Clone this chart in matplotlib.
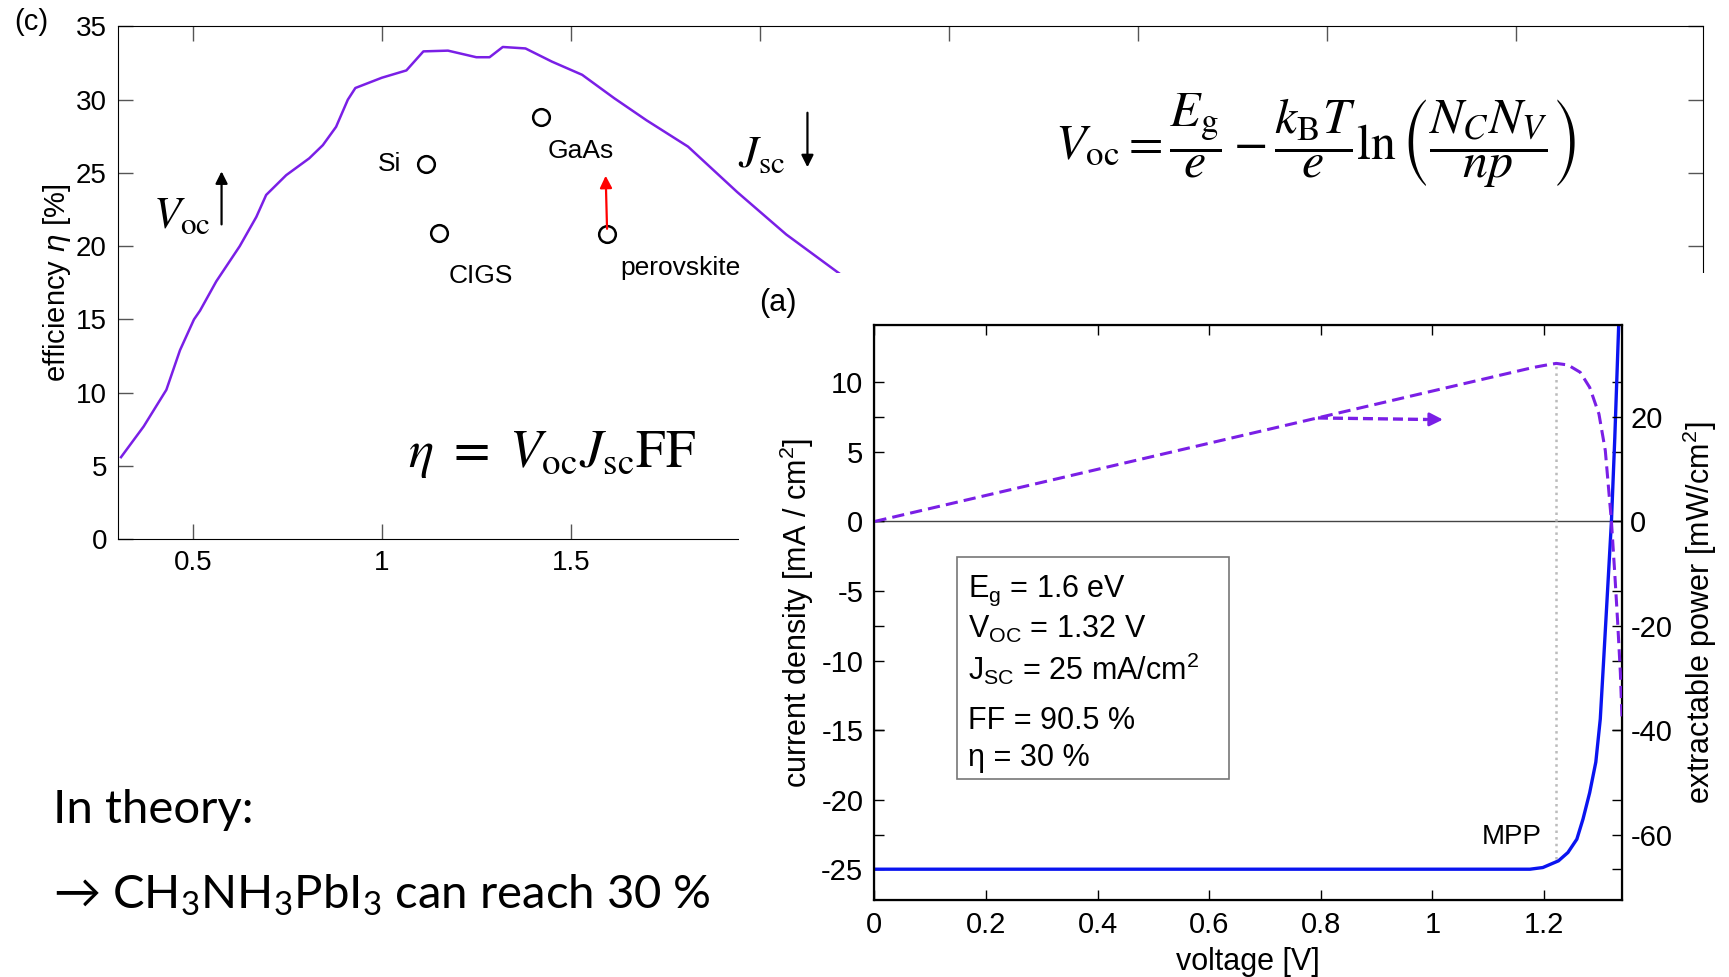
import matplotlib
matplotlib.use('Agg')
import matplotlib.pyplot as plt
import numpy as np
from matplotlib.patches import Rectangle
from matplotlib.ticker import FormatStrFormatter

# --- (c) Shockley-Queisser limit ---
sq_gap = [0.31, 0.37, 0.43, 0.466, 0.503, 0.519, 0.562, 0.624, 0.668, 0.694,
          0.747, 0.808, 0.844, 0.879, 0.91, 0.93, 1.0, 1.065, 1.11, 1.175,
          1.25, 1.285, 1.32, 1.38, 1.45, 1.53, 1.615, 1.70, 1.81, 1.94, 2.07,
          2.215]
sq_eff = [5.6, 7.7, 10.2, 12.9, 15.0, 15.6, 17.6, 20.0, 22.0, 23.5,
          24.85, 26.0, 26.9, 28.15, 30.0, 30.8, 31.5, 32.0, 33.3, 33.35,
          32.9, 32.9, 33.6, 33.5, 32.6, 31.7, 30.1, 28.6, 26.8, 23.7, 20.8,
          18.05]

cell_names = ['Si', 'CIGS', 'GaAs', 'perovskite']
cell_gap = [1.116, 1.15, 1.42, 1.596]
cell_eff = [25.6, 20.9, 28.8, 20.8]

# --- (a) J-V and P-V curve ---
jv_v = [0, 0.6, 1.175, 1.198, 1.226, 1.243, 1.259, 1.27, 1.282, 1.293, 1.301,
        1.307, 1.314, 1.321, 1.327, 1.334]
jv_j = [-25, -25, -25, -24.88, -24.4, -23.8, -22.84, -21.4, -19.5, -17.3, -14.2,
        -10.0, -5.0, 0, 6.0, 14.1]

pv_v = [0, 0.1, 0.2, 0.3, 0.4, 0.5, 0.6, 0.7, 0.8, 0.9, 1.0, 1.1, 1.18, 1.2,
        1.222, 1.243, 1.265, 1.282, 1.2986, 1.31, 1.321, 1.327, 1.332, 1.337, 1.34]
pv_p = [0, 2.5, 5, 7.5, 10, 12.5, 15, 17.5, 20, 22.5, 25, 27.5, 29.5, 29.9,
        30.3, 30.0, 28.6, 25.7, 20.6, 13.6, 0, -10, -19, -29, -38]

mpp_v = 1.222
mpp_j = -24.3
mpp_p = 30.3

box_lines = [r'E$_\mathregular{g}$ = 1.6 eV',
             r'V$_\mathregular{OC}$ = 1.32 V',
             r'J$_\mathregular{SC}$ = 25 mA/cm$^\mathregular{2}$',
             'FF = 90.5 %',
             'η = 30 %']
box_baselines = [-5.4, -8.4, -11.4, -14.95, -17.55]

purple = '#7a1fe6'
sans = ['Liberation Sans', 'DejaVu Sans']
plt.rcParams['font.family'] = sans
plt.rcParams['axes.unicode_minus'] = False
plt.rcParams['xtick.direction'] = 'in'
plt.rcParams['ytick.direction'] = 'in'

W, H = 1568, 886


def fig_box(l, t, r, b):
    return [l / W, 1 - b / H, (r - l) / W, (b - t) / H]


fig = plt.figure(figsize=(17.29, 9.77), dpi=100)

# ---------------- panel (c) ----------------
ax_c = fig.add_axes(fig_box(107, 24, 1544, 489))
ax_c.plot(sq_gap, sq_eff, color=purple, lw=1.8)
ax_c.plot(cell_gap, cell_eff, 'o', mfc='none', mec='k', ms=12, mew=1.8)
ax_c.set_xlim(0.302, 4.494)
ax_c.set_ylim(0, 35)
ax_c.set_xticks(np.arange(0.5, 4.01, 0.5))
ax_c.set_yticks(np.arange(0, 36, 5))
ax_c.xaxis.set_major_formatter(FormatStrFormatter('%g'))
ax_c.tick_params(top=True, right=True, length=11, width=1, color='#555555',
                 labelsize=20, pad=8)
ax_c.set_ylabel(r'efficiency $\eta$ [%]', fontsize=21, labelpad=2)

lbl = dict(fontsize=19, ha='center', va='center')
ax_c.text(1.02, 25.6, 'Si', **lbl)
ax_c.text(1.263, 18.0, 'CIGS', **lbl)
ax_c.text(1.527, 26.5, 'GaAs', **lbl)
ax_c.text(1.79, 18.5, 'perovskite', **lbl)
ax_c.annotate('', xy=(1.592, 25.0), xytext=(1.596, 21.0),
              arrowprops=dict(arrowstyle='-|>', color='red', lw=1.6,
                              mutation_scale=18))
ax_c.text(0.47, 22.0, r'$V_{\mathrm{oc}}$', fontsize=32, ha='center',
          va='center', math_fontfamily='stix')
ax_c.annotate('', xy=(0.576, 25.3), xytext=(0.576, 21.3),
              arrowprops=dict(arrowstyle='-|>', color='k', lw=1.6,
                              mutation_scale=18))
ax_c.text(2.005, 26.2, r'$J_{\mathrm{sc}}$', fontsize=32, ha='center',
          va='center', math_fontfamily='stix')
ax_c.annotate('', xy=(2.126, 25.2), xytext=(2.126, 29.3),
              arrowprops=dict(arrowstyle='-|>', color='k', lw=1.6,
                              mutation_scale=18))
ax_c.text(1.45, 5.8, r'$\eta\ =\ V_{\mathrm{oc}}J_{\mathrm{sc}}\mathrm{FF}$',
          fontsize=38, ha='center', va='center', math_fontfamily='stix')
ax_c.text(3.47, 27.2,
          r'$V_{\mathrm{oc}}=\dfrac{E_{\mathrm{g}}}{e}-\dfrac{k_{\mathrm{B}}T}{e}'
          r'\ln\left(\dfrac{N_C N_V}{np}\right)$',
          fontsize=36, ha='center', va='center', math_fontfamily='stix')

# white area that hides the lower right part of panel (c)
fig.add_artist(Rectangle((670 / W, 0), 1 - 670 / W, 1 - 248 / H,
                         transform=fig.transFigure, facecolor='white',
                         edgecolor='none', zorder=1))

fig.text(28 / W, 1 - 20 / H, '(c)', fontsize=21, ha='center', va='center')
fig.text(705 / W, 1 - 275 / H, '(a)', fontsize=22, ha='center', va='center',
         zorder=5)

# ---------------- panel (a) ----------------
ax_j = fig.add_axes(fig_box(793, 295, 1471, 816))
ax_j.set_zorder(2)
ax_p = ax_j.twinx()
ax_p.set_zorder(3)
ax_p.patch.set_visible(False)

ax_j.axhline(0, color='#444444', lw=1)
ax_j.plot([mpp_v, mpp_v], [mpp_j, mpp_p * 3 / 8], color='#bbbbbb', ls=':', lw=1.8)
ax_j.plot(jv_v, jv_j, color='#0a14f0', lw=2.4)
ax_p.plot(pv_v, pv_p, color=purple, lw=2.2, ls=(0, (4, 2)))

ax_j.set_xlim(0, 1.34)
ax_j.set_ylim(-27.2, 14.1)
ax_p.set_ylim(-72.5, 37.6)
ax_j.set_xticks(np.arange(0, 1.21, 0.2))
ax_j.set_xticklabels(['0', '0.2', '0.4', '0.6', '0.8', '1', '1.2'])
ax_j.set_yticks(np.arange(-25, 11, 5))
ax_p.set_yticks(np.arange(-60, 21, 20))
ax_j.tick_params(top=True, right=True, length=7, width=1, labelsize=21, pad=8)
ax_p.tick_params(left=True, right=True, labelleft=False, length=7, width=1,
                 labelsize=21, pad=6)
for sp in ax_j.spines.values():
    sp.set_linewidth(1.6)

ax_j.set_xlabel('voltage [V]', fontsize=22, labelpad=6)
ax_j.set_ylabel('current density [mA / cm$^\\mathregular{2}$]', fontsize=22,
                labelpad=4)
ax_p.set_ylabel('extractable power [mW/cm$^\\mathregular{2}$]', fontsize=22,
                labelpad=6)

# dashed arrow pointing to the power axis
ax_j.plot([0.795, 0.99], [7.44, 7.33], color=purple, lw=2.4, ls=(0, (3, 1.5)))
ax_j.annotate('', xy=(1.024, 7.32), xytext=(0.985, 7.34),
              arrowprops=dict(arrowstyle='-|>', color=purple, lw=2,
                              mutation_scale=20))

ax_j.text(1.142, -22.7, 'MPP', fontsize=20, ha='center', va='center')

ax_j.add_patch(Rectangle((0.148, -18.5), 0.636 - 0.148, -2.54 + 18.5,
                         facecolor='white', edgecolor='#777777', lw=1.2,
                         zorder=4))
for s, yb in zip(box_lines, box_baselines):
    ax_j.text(0.168, yb, s, fontsize=22, va='baseline', ha='left', zorder=5)

# ---------------- bottom-left text ----------------
txt = dict(fontsize=34, family=['Lato', 'DejaVu Sans'], va='center', ha='left',
           zorder=5)
fig.text(48 / W, 1 - 735 / H, 'In theory:', **txt)
fig.text(48 / W, 1 - 812 / H,
         r'→ CH$_\mathregular{3}$NH$_\mathregular{3}$PbI$_\mathregular{3}$ can reach 30 %',
         **txt)

fig.savefig('out.png', dpi=100)
